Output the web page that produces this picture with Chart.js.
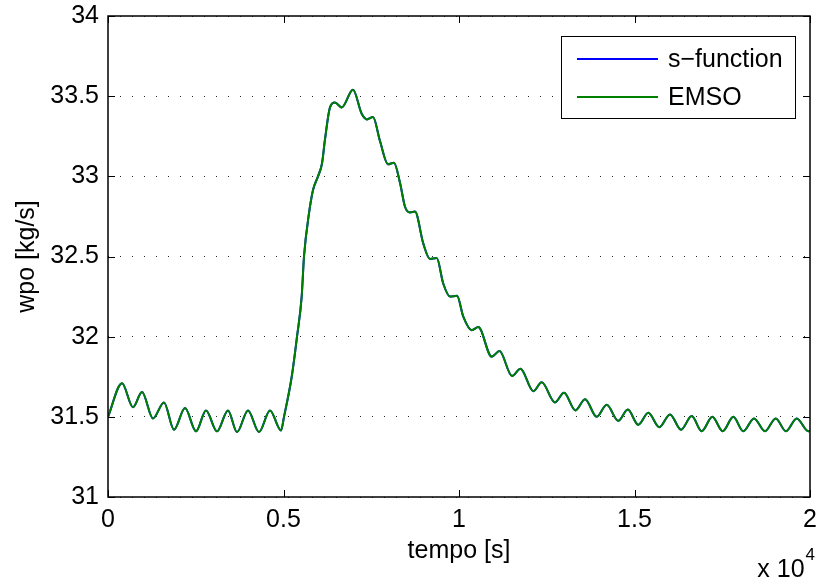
<!DOCTYPE html>
<html>
<head>
<meta charset="utf-8">
<script src="https://cdn.jsdelivr.net/npm/chart.js@4/dist/chart.umd.min.js"></script>
<style>
  html, body { margin: 0; padding: 0; background: #ffffff; }
  #wrap { width: 819px; height: 581px; }
</style>
</head>
<body>
<div id="wrap"><canvas id="c" width="819" height="581"></canvas></div>
<script>
// ---- data (time in seconds) ----
const times = [
  0, 400, 712, 969, 1282, 1595, 1880, 2194, 2507, 2792, 3105, 3419, 3675, 3989, 4302, 4615, 4929,
  5014, 5234, 5385, 5518, 5584, 5727, 5841, 5983, 6097, 6182, 6325, 6467, 6658, 6980, 7228, 7379, 7550,
  7749, 7977, 8148, 8319, 8462, 8604, 8746, 8983, 9174, 9365, 9553, 9744, 9943, 10122, 10362, 10550,
  10932, 11154, 11510, 11752, 12117, 12356, 12735, 12991, 13319, 13590, 13923, 14208, 14538, 14809,
  15108, 15393, 15707, 16011, 16325, 16630, 16914, 17217, 17513, 17815, 18100, 18405, 18718, 19023,
  19316, 19621, 19952, 20000
];
const sFunction = [
  31.50, 31.71, 31.56, 31.655, 31.49, 31.59, 31.42, 31.555, 31.41, 31.54, 31.41, 31.54, 31.405, 31.54, 31.405, 31.54, 31.415,
  31.50, 31.75, 32.00, 32.25, 32.50, 32.77, 32.915, 33.00, 33.08, 33.23, 33.43, 33.46, 33.43, 33.54, 33.39, 33.355, 33.37,
  33.22, 33.075, 33.085, 32.96, 32.81, 32.775, 32.78, 32.58, 32.485, 32.49, 32.33, 32.25, 32.255, 32.125, 32.04, 32.06,
  31.875, 31.91, 31.755, 31.80, 31.66, 31.715, 31.59, 31.65, 31.54, 31.61, 31.50, 31.575, 31.475, 31.545,
  31.45, 31.525, 31.435, 31.515, 31.42, 31.505, 31.41, 31.50, 31.41, 31.50, 31.41, 31.49, 31.41, 31.49,
  31.41, 31.49, 31.41, 31.415
];
const emso = [
  31.50, 31.71, 31.56, 31.655, 31.49, 31.59, 31.42, 31.555, 31.41, 31.54, 31.41, 31.54, 31.405, 31.54, 31.405, 31.54, 31.415,
  31.50, 31.75, 32.00, 32.25, 32.50, 32.77, 32.915, 33.00, 33.08, 33.23, 33.43, 33.46, 33.43, 33.54, 33.39, 33.355, 33.37,
  33.22, 33.075, 33.085, 32.96, 32.81, 32.775, 32.78, 32.58, 32.485, 32.49, 32.33, 32.25, 32.255, 32.125, 32.04, 32.06,
  31.875, 31.91, 31.755, 31.80, 31.66, 31.715, 31.59, 31.65, 31.54, 31.61, 31.50, 31.575, 31.475, 31.545,
  31.45, 31.525, 31.435, 31.515, 31.42, 31.505, 31.41, 31.50, 31.41, 31.50, 31.41, 31.49, 31.41, 31.49,
  31.41, 31.49, 31.41, 31.415
];
const seriesNames = ['s\u2212function', 'EMSO'];
const xTickValues = [0, 5000, 10000, 15000, 20000];
const yTickValues = [31, 31.5, 32, 32.5, 33, 33.5, 34];
const xLabel = 'tempo [s]';
const yLabel = 'wpo [kg/s]';
const xExponentBase = 'x 10';
const xExponent = '4';

const FONT = '"Liberation Sans", Arial, Helvetica, sans-serif';
const FS = 25;

const toPoints = (ys) => times.map((t, i) => ({ x: t, y: ys[i] }));

const matlabFrame = {
  id: 'matlabFrame',
  afterDraw(chart) {
    const { ctx, chartArea: a, scales } = chart;
    const xs = scales.x, ys = scales.y;
    ctx.save();
    // box
    ctx.strokeStyle = '#000';
    ctx.lineWidth = 1.5;
    ctx.strokeRect(a.left, a.top, a.right - a.left, a.bottom - a.top);
    // inward ticks on all sides
    const tl = 7;
    ctx.lineWidth = 1;
    ctx.beginPath();
    xTickValues.forEach(v => {
      const px = Math.round(xs.getPixelForValue(v)) + 0.5;
      ctx.moveTo(px, a.bottom); ctx.lineTo(px, a.bottom - tl);
      ctx.moveTo(px, a.top); ctx.lineTo(px, a.top + tl);
    });
    yTickValues.forEach(v => {
      const py = Math.round(ys.getPixelForValue(v)) + 0.5;
      ctx.moveTo(a.left, py); ctx.lineTo(a.left + tl, py);
      ctx.moveTo(a.right, py); ctx.lineTo(a.right - tl, py);
    });
    ctx.stroke();

    // legend box
    const lx = 561, ly = 36, lw = 234, lh = 82;
    ctx.fillStyle = '#fff';
    ctx.fillRect(lx, ly, lw, lh);
    ctx.strokeStyle = '#000';
    ctx.lineWidth = 1;
    ctx.strokeRect(lx + 0.5, ly + 0.5, lw, lh);
    const rows = [59, 97];
    chart.data.datasets.forEach((ds, i) => {
      const y = rows[i];
      ctx.strokeStyle = ds.borderColor;
      ctx.lineWidth = 2;
      ctx.beginPath();
      ctx.moveTo(577, y); ctx.lineTo(658, y);
      ctx.stroke();
      ctx.fillStyle = '#000';
      ctx.font = FS + 'px ' + FONT;
      ctx.textAlign = 'left';
      ctx.textBaseline = 'middle';
      ctx.fillText(ds.label, 668, y + 1);
    });

    // x 10^4 multiplier
    ctx.fillStyle = '#000';
    ctx.font = FS + 'px ' + FONT;
    const baseW = ctx.measureText(xExponentBase).width;
    ctx.font = '17px ' + FONT;
    const expW = ctx.measureText(xExponent).width;
    const endX = 815;
    ctx.textAlign = 'left';
    ctx.textBaseline = 'alphabetic';
    ctx.fillText(xExponent, endX - expW, 560);
    ctx.font = FS + 'px ' + FONT;
    ctx.fillText(xExponentBase, endX - expW - baseW - 1, 577);
    ctx.restore();
  }
};

new Chart(document.getElementById('c'), {
  type: 'line',
  data: {
    datasets: [
      { label: seriesNames[0], data: toPoints(sFunction), borderColor: '#0000ff', borderWidth: 2,
        pointRadius: 0, fill: false, cubicInterpolationMode: 'monotone', order: 2 },
      { label: seriesNames[1], data: toPoints(emso), borderColor: '#008000', borderWidth: 2,
        pointRadius: 0, fill: false, cubicInterpolationMode: 'monotone', order: 1 }
    ]
  },
  options: {
    responsive: false,
    animation: false,
    events: [],
    layout: { padding: { top: 16, right: 9, left: 0, bottom: 0 } },
    plugins: { legend: { display: false }, tooltip: { enabled: false } },
    scales: {
      x: {
        type: 'linear', min: 0, max: 20000,
        afterBuildTicks: (s) => { s.ticks = xTickValues.map(v => ({ value: v })); },
        afterFit: (s) => { s.height = 84; s.paddingLeft = 0; s.paddingRight = 0; },
        grid: { display: false, drawTicks: false },
        border: { display: false },
        ticks: {
          padding: 8, color: '#000', maxRotation: 0, autoSkip: false,
          font: { family: FONT, size: FS },
          callback: (v) => String(v / 10000)
        },
        title: { display: true, text: xLabel, color: '#000', font: { family: FONT, size: FS },
                 padding: { top: 0, bottom: 15 } }
      },
      y: {
        type: 'linear', min: 31, max: 34,
        afterBuildTicks: (s) => { s.ticks = yTickValues.map(v => ({ value: v })); },
        afterFit: (s) => { s.width = 108; s.paddingTop = 0; s.paddingBottom = 0; },
        grid: { display: true, drawTicks: false, color: 'rgba(0,0,0,0.85)', lineWidth: 1 },
        border: { display: false, dash: [1, 11] },
        ticks: {
          padding: 9, color: '#000', autoSkip: false,
          font: { family: FONT, size: FS },
          callback: (v) => String(v)
        },
        title: { display: true, text: yLabel, color: '#000', font: { family: FONT, size: FS },
                 padding: { top: 12, bottom: 0 } }
      }
    }
  },
  plugins: [matlabFrame]
});
</script>
</body>
</html>
